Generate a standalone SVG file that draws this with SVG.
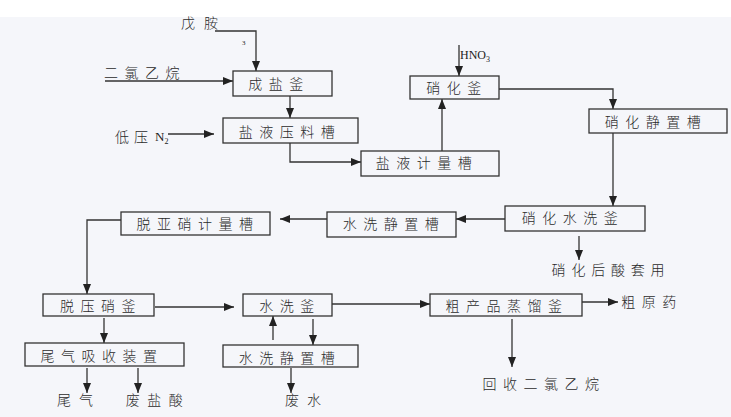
<svg xmlns="http://www.w3.org/2000/svg" width="731" height="417" viewBox="0 0 731 417">
<defs>
<marker id="ah" markerUnits="userSpaceOnUse" markerWidth="10" markerHeight="8" refX="10" refY="4" orient="auto">
<path d="M0,0 L10,4 L0,8 z" fill="#222"/>
</marker>
<style>
.box{fill:none;stroke:#333;stroke-width:1.3}
.ln{fill:none;stroke:#333;stroke-width:1.3;marker-end:url(#ah)}
.t{font-family:"Noto Sans CJK SC","Noto Sans CJK JP",sans-serif;font-size:14px;font-weight:300;fill:#2a2a2a;text-anchor:middle;letter-spacing:6.5px}
.s{font-family:"Liberation Serif",serif;fill:#222}
</style>
</defs>
<rect x="0" y="0" width="731" height="417" fill="#f5f6fa"/>
<rect x="0" y="0" width="731" height="17" fill="#ffffff"/>
<g id="connectors">
<path class="ln" d="M215,31 H256 V71"/>
<path class="ln" d="M105,81 H233"/>
<path class="ln" d="M168,134 H214"/>
<path class="ln" d="M290,96 V118"/>
<path class="ln" d="M290,143 V162 H361"/>
<path class="ln" d="M442,151 V99"/>
<path class="ln" d="M459,45 V76"/>
<path class="ln" d="M499,89 H613 V109"/>
<path class="ln" d="M613,133 V206"/>
<path class="ln" d="M505,219 H456"/>
<path class="ln" d="M579,236 V260"/>
<path class="ln" d="M327,219 H280"/>
<path class="ln" d="M121,220 H87 V294"/>
<path class="ln" d="M155,307 H234"/>
<path class="ln" d="M332,304 H430"/>
<path class="ln" d="M582,302 H618"/>
<path class="ln" d="M512,319 V367"/>
<path class="ln" d="M104,318 V343"/>
<path class="ln" d="M273,340 V316"/>
<path class="ln" d="M313,319 V345"/>
<path class="ln" d="M87,368 V393"/>
<path class="ln" d="M138,368 V393"/>
<path class="ln" d="M291,368 V393"/>
</g>
<g id="labels">
<text class="t" x="204" y="28" style="letter-spacing:9px">戊胺</text>
<text class="s" x="242" y="45" font-size="7">3</text>
<text class="t" x="145" y="78">二氯乙烷</text>
<text class="t" x="134" y="142" style="letter-spacing:5px">低压</text>
<text class="s" x="155" y="141" font-size="13">N<tspan font-size="8" dy="3">2</tspan></text>
<text class="s" x="460" y="59" font-size="12">HNO<tspan font-size="8" dy="3">3</tspan></text>
<text class="t" x="611" y="275" style="letter-spacing:5.8px">硝化后酸套用</text>
<text class="t" x="652" y="307">粗原药</text>
<text class="t" x="544" y="389">回收二氯乙烷</text>
<text class="t" x="79" y="405" style="letter-spacing:8px">尾气</text>
<text class="t" x="158" y="405" style="letter-spacing:7.5px">废盐酸</text>
<text class="t" x="307" y="405" style="letter-spacing:8px">废水</text>
</g>
<g id="n1"><rect class="box" x="233" y="71" width="99" height="25"/><text class="t" x="279" y="89">成盐釜</text></g>
<g id="n2"><rect class="box" x="223" y="118" width="135" height="25"/><text class="t" x="290" y="137">盐液压料槽</text></g>
<g id="n3"><rect class="box" x="361" y="151" width="138" height="25"/><text class="t" x="427" y="168">盐液计量槽</text></g>
<g id="n4"><rect class="box" x="410" y="76" width="89" height="23"/><text class="t" x="457" y="93">硝化釜</text></g>
<g id="n5"><rect class="box" x="589" y="109" width="138" height="24"/><text class="t" x="656" y="127">硝化静置槽</text></g>
<g id="n6"><rect class="box" x="505" y="206" width="140" height="25"/><text class="t" x="573" y="223">硝化水洗釜</text></g>
<g id="n7"><rect class="box" x="327" y="212" width="129" height="25"/><text class="t" x="394" y="229">水洗静置槽</text></g>
<g id="n8"><rect class="box" x="121" y="212" width="149" height="23"/><text class="t" x="198" y="229">脱亚硝计量槽</text></g>
<g id="n9"><rect class="box" x="43" y="294" width="111" height="22"/><text class="t" x="101" y="311">脱压硝釜</text></g>
<g id="n10"><rect class="box" x="243" y="294" width="89" height="22"/><text class="t" x="290" y="311">水洗釜</text></g>
<g id="n11"><rect class="box" x="430" y="294" width="152" height="22"/><text class="t" x="507" y="311">粗产品蒸馏釜</text></g>
<g id="n12"><rect class="box" x="25" y="343" width="159" height="23"/><text class="t" x="102" y="361">尾气吸收装置</text></g>
<g id="n13"><rect class="box" x="223" y="345" width="135" height="22"/><text class="t" x="290" y="363">水洗静置槽</text></g>
</svg>
